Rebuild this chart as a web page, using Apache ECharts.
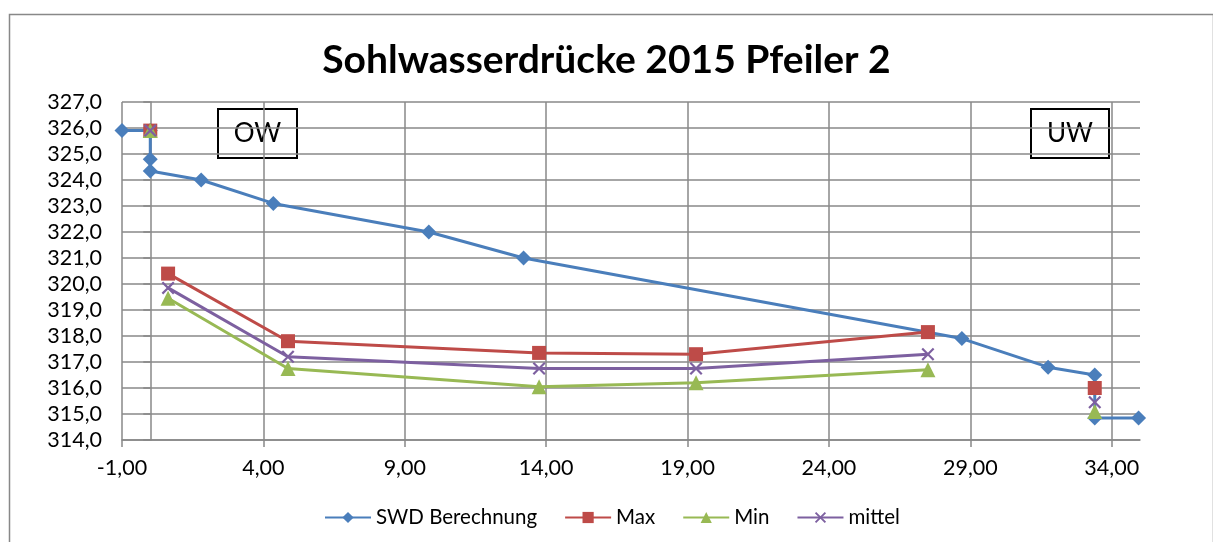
<!DOCTYPE html>
<html>
<head>
<meta charset="utf-8">
<script src="https://cdn.jsdelivr.net/npm/echarts@6/dist/echarts.min.js"></script>
<style>
html,body{margin:0;padding:0;background:#fff;}
#chart{width:1213px;height:542px;}
</style>
</head>
<body>
<div id="chart"></div>
<script>
// ---- Data ----
const titleText = 'Sohlwasserdrücke 2015 Pfeiler 2';
const seriesNames = ['SWD Berechnung', 'Max', 'Min', 'mittel'];

const swdX = [-1, 0, 0, 0, 1.8, 4.35, 9.85, 13.2, 28.7, 31.75, 33.4, 33.4, 34.95];
const swdY = [325.9, 325.9, 324.8, 324.35, 324.0, 323.1, 322.0, 321.0, 317.9, 316.8, 316.5, 314.85, 314.85];

const measX = [0, 0.63, 4.87, 13.75, 19.3, 27.5, 33.4];
const measSegment = [0, 1, 1, 1, 1, 1, 2];  // points in different segments are not connected
const maxY = [325.9, 320.4, 317.8, 317.35, 317.3, 318.15, 316.0];
const minY = [325.9, 319.45, 316.75, 316.05, 316.2, 316.7, 315.1];
const mittelY = [325.9, 319.85, 317.2, 316.75, 316.75, 317.3, 315.45];

const xMin = -1, xMax = 35, xInterval = 5;
const yMin = 314, yMax = 327, yInterval = 1;

const boxLabels = ['OW', 'UW'];

// ---- Build series data ----
function pairs(xs, ys) { return xs.map((x, i) => [x, ys[i]]); }
function segmented(xs, ys, seg) {
  const out = [];
  xs.forEach((x, i) => {
    if (i > 0 && seg[i] !== seg[i - 1]) out.push([(xs[i - 1] + x) / 2, '-']);
    out.push([x, ys[i]]);
  });
  return out;
}

const colors = ['#4A7EBB', '#BE4B48', '#98B954', '#7D60A0'];
const xPath = 'path://M0,1.2L1.2,0L5,3.8L8.8,0L10,1.2L6.2,5L10,8.8L8.8,10L5,6.2L1.2,10L0,8.8L3.8,5Z';
const FONT = 'Lato';

const chart = echarts.init(document.getElementById('chart'), null, {renderer: 'canvas'});

const option = {
  animation: false,
  backgroundColor: '#ffffff',
  color: colors,
  title: {
    text: titleText,
    left: 'center',
    top: 36,
    textStyle: {fontFamily: FONT, fontWeight: 'bold', fontSize: 39, color: '#000'}
  },
  legend: {
    left: 319,
    top: 502,
    itemWidth: 46,
    itemHeight: 14,
    itemGap: 27,
    textStyle: {fontFamily: FONT, fontSize: 20.5, color: '#000'},
    data: seriesNames
  },
  grid: {left: 122, right: 73, top: 102, bottom: 102, containLabel: false},
  xAxis: {
    type: 'value',
    min: xMin, max: xMax, interval: xInterval,
    axisLine: {show: true, lineStyle: {color: '#888', width: 1.5}},
    axisTick: {show: true, length: 7, lineStyle: {color: '#888', width: 1.5}},
    axisLabel: {
      fontFamily: FONT, fontSize: 21.5, color: '#000', margin: 17,
      showMaxLabel: false,
      formatter: v => v.toFixed(2).replace('.', ',')
    },
    splitLine: {show: true, showMaxLine: false, lineStyle: {color: '#888', width: 1.5}}
  },
  yAxis: {
    type: 'value',
    min: yMin, max: yMax, interval: yInterval,
    axisLine: {show: true, onZero: true, lineStyle: {color: '#888', width: 1.5}},
    axisTick: {show: true, length: 7, lineStyle: {color: '#888', width: 1.5}},
    axisLabel: {
      fontFamily: FONT, fontSize: 21.5, color: '#000', margin: 20,
      formatter: v => v.toFixed(1).replace('.', ',')
    },
    splitLine: {show: true, lineStyle: {color: '#888', width: 1.5}}
  },
  series: [
    {
      name: seriesNames[0], type: 'line', data: pairs(swdX, swdY),
      symbol: 'diamond', symbolSize: 15, clip: false,
      lineStyle: {width: 3, color: colors[0]}, itemStyle: {color: colors[0]}
    },
    {
      name: seriesNames[1], type: 'line', data: segmented(measX, maxY, measSegment),
      symbol: 'rect', symbolSize: 14, connectNulls: false,
      lineStyle: {width: 3, color: colors[1]}, itemStyle: {color: colors[1]}
    },
    {
      name: seriesNames[2], type: 'line', data: segmented(measX, minY, measSegment),
      symbol: 'triangle', symbolSize: 15, connectNulls: false,
      lineStyle: {width: 3, color: colors[2]}, itemStyle: {color: colors[2]}
    },
    {
      name: seriesNames[3], type: 'line', data: segmented(measX, mittelY, measSegment),
      symbol: xPath, symbolSize: 13, connectNulls: false,
      lineStyle: {width: 3, color: colors[3]}, itemStyle: {color: colors[3]}
    }
  ],
  graphic: [
    {type: 'rect', left: 7, top: 12, z: -10, silent: true,
     shape: {width: 1204, height: 560}, style: {fill: 'none', stroke: '#888', lineWidth: 1.5}},
    {type: 'group', left: 217, top: 108, z: 100, children: [
      {type: 'rect', shape: {width: 79, height: 49}, style: {fill: '#fff', stroke: '#000', lineWidth: 2}},
      {type: 'text', x: 39.5, y: 25, style: {text: boxLabels[0], fontFamily: FONT, fontSize: 26, fill: '#000', align: 'center', verticalAlign: 'middle'}}
    ]},
    {type: 'group', left: 1030, top: 108, z: 100, children: [
      {type: 'rect', shape: {width: 78, height: 49}, style: {fill: '#fff', stroke: '#000', lineWidth: 2}},
      {type: 'text', x: 39, y: 25, style: {text: boxLabels[1], fontFamily: FONT, fontSize: 26, fill: '#000', align: 'center', verticalAlign: 'middle'}}
    ]}
  ]
};
chart.setOption(option);
</script>
</body>
</html>
